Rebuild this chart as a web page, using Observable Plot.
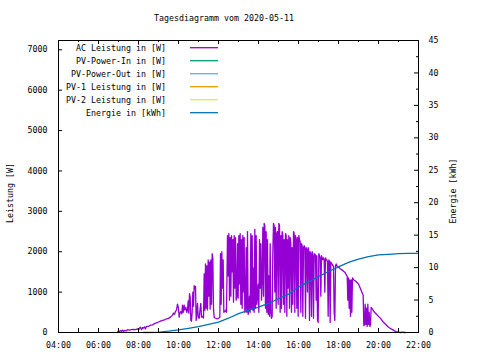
<!DOCTYPE html>
<html><head><meta charset="utf-8">
<script src="https://cdn.jsdelivr.net/npm/d3@7"></script>
<script src="https://cdn.jsdelivr.net/npm/@observablehq/plot@0.6"></script>
<style>body{margin:0;background:#fff}</style>
</head><body><div id="chart"></div>
<script>
const chartTitle = "Tagesdiagramm vom 2020-05-11";
const yLabelLeft = "Leistung [W]";
const yLabelRight = "Energie [kWh]";
const seriesNames = ["AC Leistung in [W]", "PV-Power-In in [W]", "PV-Power-Out in [W]", "PV-1 Leistung in [W]", "PV-2 Leistung in [W]", "Energie in [kWh]"];
const seriesColors = ["#9400d3", "#009e73", "#56b4e9", "#e69f00", "#f0e442", "#0072b2"];

const acTimes = ["06:57","07:00","07:03","07:06","07:09","07:12","07:15","07:18","07:24","07:27","07:33","07:39","07:45","07:51","07:57","08:00","08:03","08:06","08:09","08:12","08:15","08:18","08:21","08:24","08:30","08:36","08:42","08:48","08:54","09:00","09:06","09:12","09:18","09:24","09:30","09:36","09:42","09:45","09:48","09:51","09:54","09:57","10:00","10:02","10:04","10:07","10:10","10:12","10:14","10:17","10:19","10:22","10:25","10:27","10:29","10:31","10:33","10:35","10:37","10:39","10:41","10:43","10:45","10:47","10:49","10:51","10:53","10:55","10:57","10:59","11:02","11:05","11:07","11:09","11:12","11:15","11:17","11:19","11:21","11:23","11:25","11:27","11:29","11:31","11:33","11:35","11:37","11:39","11:41","11:43","11:45","11:47","11:50","11:55","12:00","12:04","12:06","12:08","12:10","12:12","12:14","12:16","12:19","12:22","12:24","12:27","12:29","12:31","12:33","12:35","12:37","12:39","12:41","12:43","12:45","12:47","12:49","12:51","12:53","12:55","12:57","12:59","13:01","13:03","13:05","13:07","13:09","13:11","13:13","13:15","13:17","13:19","13:21","13:23","13:25","13:27","13:29","13:31","13:33","13:35","13:37","13:39","13:41","13:43","13:45","13:47","13:49","13:51","13:53","13:55","13:57","13:59","14:01","14:03","14:05","14:07","14:09","14:11","14:13","14:15","14:17","14:19","14:21","14:23","14:25","14:27","14:29","14:31","14:33","14:35","14:37","14:39","14:41","14:43","14:45","14:47","14:49","14:51","14:53","14:55","14:57","14:59","15:01","15:03","15:05","15:07","15:09","15:11","15:13","15:15","15:17","15:19","15:21","15:23","15:25","15:27","15:29","15:31","15:33","15:35","15:37","15:39","15:41","15:43","15:45","15:47","15:49","15:51","15:53","15:55","15:57","15:59","16:01","16:03","16:05","16:07","16:09","16:11","16:13","16:15","16:17","16:19","16:21","16:23","16:25","16:27","16:29","16:31","16:33","16:35","16:37","16:39","16:41","16:43","16:45","16:47","16:49","16:51","16:53","16:55","16:57","16:59","17:01","17:03","17:05","17:07","17:09","17:11","17:13","17:15","17:17","17:19","17:21","17:23","17:25","17:27","17:29","17:31","17:33","17:35","17:37","17:39","17:41","17:43","17:45","17:47","17:49","17:51","17:53","17:55","18:00","18:05","18:10","18:15","18:20","18:24","18:26","18:28","18:30","18:32","18:34","18:36","18:38","18:40","18:42","18:46","18:50","18:54","19:00","19:05","19:10","19:14","19:16","19:18","19:20","19:22","19:24","19:26","19:28","19:30","19:32","19:34","19:36","19:38","19:42","19:48","19:54","20:00","20:06","20:12","20:18","20:24","20:30","20:36","20:42","20:48","20:54","21:00","21:06","21:12","21:18","21:21"];
const acWatts = [10,40,20,50,30,60,20,50,40,70,60,70,80,70,90,60,110,130,70,120,110,140,90,150,150,180,190,220,240,260,280,300,310,340,350,380,430,480,450,520,560,700,600,380,480,520,460,680,500,680,560,620,500,560,780,480,960,880,300,280,500,1000,650,1160,1080,1140,300,500,720,380,350,600,720,380,400,360,1450,550,1700,600,1650,560,1800,900,1750,580,1800,700,1950,1850,600,380,360,340,350,380,1950,700,2000,1100,1800,500,520,560,500,2400,1400,2450,800,2350,900,2400,1500,2300,750,2400,1100,2350,800,900,2200,850,2400,1200,2450,700,2300,600,2400,1000,2350,500,600,2100,500,2500,450,550,900,500,2450,600,2400,550,1600,500,2550,600,2400,700,900,1200,500,2300,1100,2200,800,1300,2600,900,2700,2650,600,2500,500,2300,450,1400,400,2200,500,350,400,2000,2700,2650,1000,2600,600,2450,2500,700,2700,2650,500,2400,600,2500,2400,700,2300,500,2450,2400,400,2300,1100,2400,600,2350,2200,500,2100,700,2500,2450,500,2400,2300,600,2350,400,2400,2300,2250,500,2200,2150,400,2100,2150,2100,350,2100,2050,1000,2100,2000,300,2000,1950,400,2000,1950,350,1900,1950,1900,800,1900,300,250,1950,1900,1850,900,1900,1850,1800,1850,1800,1000,1850,1800,1800,1750,400,1800,1750,250,1750,1700,1700,1650,1650,500,300,1650,1700,1650,1620,1580,1550,1520,1480,1420,1400,800,1350,600,1300,400,1300,500,1350,1300,1280,1250,1200,1100,1000,930,170,200,700,200,600,150,700,200,500,150,200,620,580,500,450,400,350,280,230,180,130,100,70,40,20,10,0,10,0,0];

const energyTimes = ["08:15","09:00","09:10","09:30","10:00","10:30","11:00","11:30","12:00","12:30","13:00","13:30","14:00","14:30","15:00","15:30","16:00","16:30","17:00","17:30","18:00","18:30","19:00","19:30","20:00","20:30","21:00","21:30","22:00"];
const energyKWh = [0,0.03,0.1,0.2,0.4,0.65,0.9,1.25,1.6,2.2,2.9,3.4,3.9,4.5,5.2,5.9,7.0,7.8,8.6,9.4,10.1,10.8,11.3,11.7,11.95,12.05,12.15,12.2,12.2];

const xTickHours = [4,5,6,7,8,9,10,11,12,13,14,15,16,17,18,19,20,21,22];
const xLabelHours = [4,6,8,10,12,14,16,18,20,22];
const yTicksW = [0,1000,2000,3000,4000,5000,6000,7000];
const y2LabelKWh = [0,5,10,15,20,25,30,35,40,45];
const y2MinorKWh = [2.5,7.5,12.5,17.5,22.5,27.5,32.5,37.5,42.5];

const W = 480, H = 360, mL = 58, mR = 62, mT = 40, mB = 28;
const fw = W - mL - mR, fh = H - mT - mB;
const yMaxW = 7230, y2MaxKWh = 45;
const k = yMaxW / y2MaxKWh;
const font = "'DejaVu Sans Mono', monospace";

const toH = s => { const [h, m] = s.split(":").map(Number); return h + m / 60; };
const ac = acTimes.map((t, i) => ({t: toH(t), w: acWatts[i]}));
const energy = energyTimes.map((t, i) => ({t: toH(t), e: energyKWh[i]}));
const fmtH = h => String(h).padStart(2, "0") + ":00";

const plot = Plot.plot({
  width: W, height: H, marginLeft: mL, marginRight: mR, marginTop: mT, marginBottom: mB,
  style: {fontFamily: font, fontSize: "8.3px", background: "white", color: "black", overflow: "visible"},
  x: {domain: [4, 22]},
  y: {domain: [0, yMaxW]},
  marks: [
    Plot.line(ac, {x: "t", y: "w", stroke: seriesColors[0], strokeWidth: 1.3}),
    Plot.line(energy, {x: "t", y: d => d.e * k, stroke: seriesColors[5], strokeWidth: 1.3}),
    Plot.frame({stroke: "black"}),
    Plot.tickX(xTickHours, {x: d => d, insetTop: fh - 4, stroke: "black"}),
    Plot.tickX(xLabelHours, {x: d => d, insetBottom: fh - 4, stroke: "black"}),
    Plot.tickX(xTickHours.filter(h => h % 2), {x: d => d, insetBottom: fh - 2, stroke: "black"}),
    Plot.tickY(yTicksW, {y: d => d, insetRight: fw - 4, stroke: "black"}),
    Plot.tickY(y2LabelKWh, {y: d => d * k, insetLeft: fw - 4, stroke: "black"}),
    Plot.tickY(y2MinorKWh, {y: d => d * k, insetLeft: fw - 2, stroke: "black"}),
    Plot.axisX(xLabelHours, {tickSize: 0, tickPadding: 10, tickFormat: fmtH, label: null}),
    Plot.axisY(yTicksW, {tickSize: 0, tickPadding: 11, tickFormat: d => String(d), label: null}),
    Plot.axisY(y2LabelKWh.map(v => v * k), {anchor: "right", tickSize: 0, tickPadding: 10, tickFormat: v => String(Math.round(v / k)), label: null})
  ]
});

const svg = d3.select(plot);
svg.append("text").attr("x", 224).attr("y", 21).attr("text-anchor", "middle")
  .attr("font-family", font).attr("font-size", "8.3px").text(chartTitle);
svg.append("text").attr("transform", "translate(13,193) rotate(-90)").attr("text-anchor", "middle")
  .attr("font-family", font).attr("font-size", "8.3px").text(yLabelLeft);
svg.append("text").attr("transform", "translate(456,191) rotate(-90)").attr("text-anchor", "middle")
  .attr("font-family", font).attr("font-size", "8.3px").text(yLabelRight);
const leg = svg.append("g");
seriesNames.forEach((name, i) => {
  const cy = 47.7 + i * 13;
  leg.append("text").attr("x", 166).attr("y", cy + 3).attr("text-anchor", "end")
    .attr("font-family", font).attr("font-size", "8.3px").text(name);
  leg.append("line").attr("x1", 190).attr("x2", 218).attr("y1", cy).attr("y2", cy)
    .attr("stroke", seriesColors[i]).attr("stroke-width", 1.3);
});
document.getElementById("chart").appendChild(plot);
</script>
</body></html>
